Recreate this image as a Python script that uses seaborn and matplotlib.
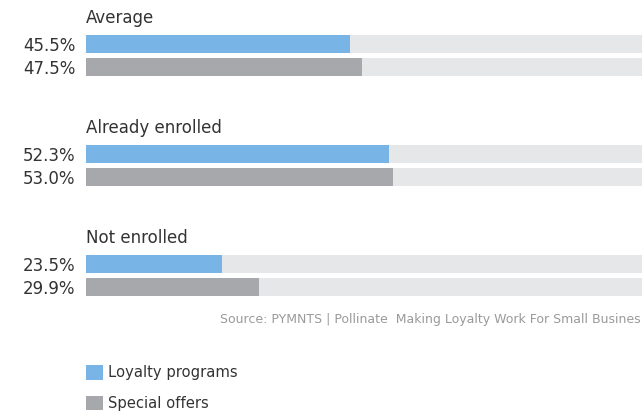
import matplotlib
matplotlib.use("Agg")
import matplotlib.pyplot as plt
from matplotlib.patches import Patch
import seaborn as sns
import pandas as pd

groups = ["Average", "Already enrolled", "Not enrolled"]
series = ["Loyalty programs", "Special offers"]
loyalty = [45.5, 52.3, 23.5]
offers = [47.5, 53.0, 29.9]
source = "Source: PYMNTS | Pollinate  Making Loyalty Work For Small Busines"

colors = {"Loyalty programs": "#78b4e6", "Special offers": "#a7a8ab"}
track_color = "#e6e7e9"
text_color = "#333333"

rows = []
for g, a, b in zip(groups, loyalty, offers):
    rows.append({"group": g, "series": series[0], "value": a, "track": 100})
    rows.append({"group": g, "series": series[1], "value": b, "track": 100})
df = pd.DataFrame(rows)

sns.set_theme(style="white")
plt.rcParams["font.family"] = ["DejaVu Sans"]

W, H = 642, 413
fig = plt.figure(figsize=(W / 100, H / 100), dpi=100)

left_px = 86
px_per_pct = 5.8
xmax = (W - left_px) / px_per_pct
tops = [32.5, 142.5, 252.5]  # top of each group's axes (px)
ax_h = 46

for i, g in enumerate(groups):
    sub = df[df["group"] == g]
    ax = fig.add_axes([left_px / W, 1 - (tops[i] + ax_h) / H, (W - left_px) / W, ax_h / H])
    sns.barplot(data=sub, x="track", y="series", color=track_color, orient="h",
                width=0.74, linewidth=0, ax=ax, order=series, saturation=1)
    sns.barplot(data=sub, x="value", y="series", hue="series", palette=colors,
                orient="h", width=0.74, linewidth=0, ax=ax, order=series,
                hue_order=series, legend=False, saturation=1)
    ax.set_xlim(0, xmax)
    ax.set_ylim(1.5, -0.5)
    ax.set_xlabel("")
    ax.set_ylabel("")
    ax.set_xticks([])
    ax.set_yticks([0, 1])
    ax.set_yticklabels([f"{v:.1f}%" for v in sub["value"]])
    ax.tick_params(axis="y", length=0, pad=7.5, labelsize=12, labelcolor=text_color)
    for s in ax.spines.values():
        s.set_visible(False)
    ax.patch.set_alpha(0)
    fig.text(left_px / W, 1 - (23 + 110 * i) / H, g, ha="left", va="baseline",
             fontsize=12, color=text_color)

fig.text(641 / W, 1 - 319 / H, source, ha="right", va="center",
         fontsize=9, color="#9a9a9a")

handles = [Patch(facecolor=colors[s], edgecolor="none", label=s) for s in series]
fig.legend(handles=handles, loc="upper left", bbox_to_anchor=(left_px / W, 1 - 365 / H),
           frameon=False, fontsize=10.6, borderpad=0, borderaxespad=0,
           handlelength=1.15, handleheight=1.15, handletextpad=0.35, labelspacing=1.05,
           labelcolor=text_color)

fig.savefig("out.png", dpi=100)
